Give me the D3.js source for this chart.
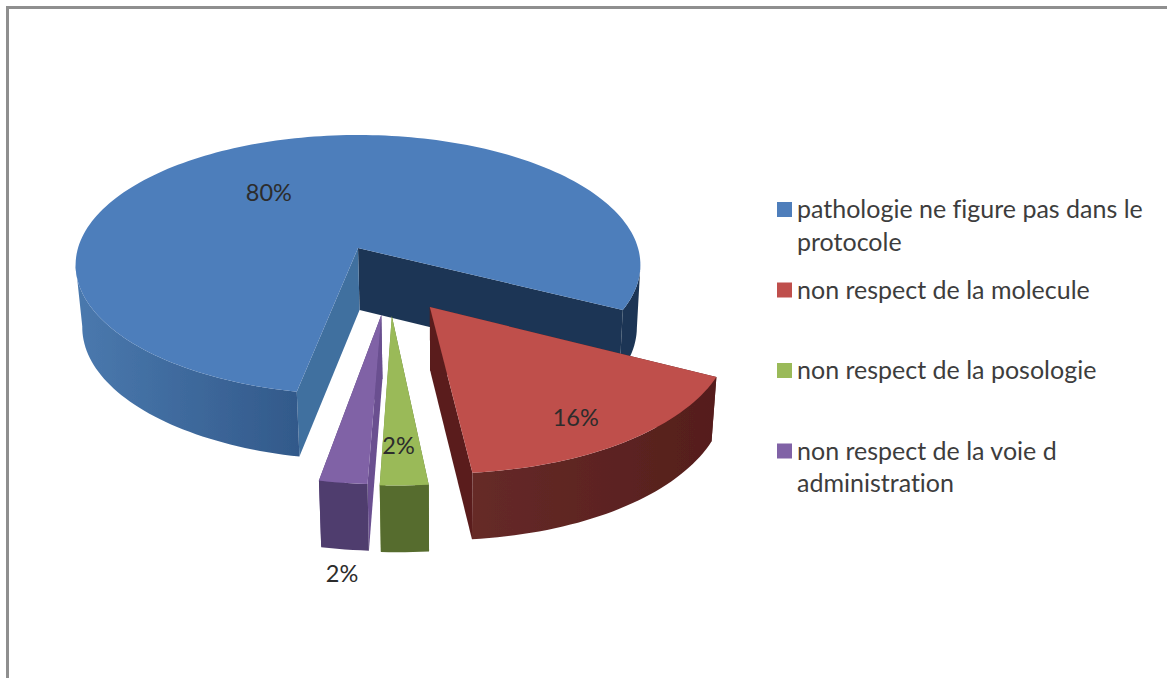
<!DOCTYPE html>
<html><head><meta charset="utf-8">
<script src="https://cdn.jsdelivr.net/npm/d3@7"></script>
<style>html,body{margin:0;padding:0;background:#fff;overflow:hidden}svg{display:block}text{font-family:Lato,"Open Sans",sans-serif;font-variant-ligatures:none}</style>
</head><body><svg id="c" width="1167" height="678"></svg>
<script>
const categories = ["pathologie ne figure pas dans le protocole","non respect de la molecule","non respect de la posologie","non respect de la voie d administration"];
const legendLines = [["pathologie ne figure pas dans le","protocole"],["non respect de la molecule"],["non respect de la posologie"],["non respect de la voie d","administration"]];
const values = [79.5,16,2.25,2.25];
const valueLabels = ["80%","16%","2%","2%"];
const topColors = ["#4e7ebb","#bf4f4c","#9aba59","#8062a6"];
const wallFrom = ["#4a79ae","#662a28","#566c2d","#4f3c6e"];
const wallTo = ["#32598a","#551e1c","#566c2d","#4f3c6e"];
const cutLeftColors = ["#41709f","#5a1f1e","#566c2d","#6a5090"];
const cutRightColors = ["#1e3654","#5a1f1e","#6f8a3a","#5b4580"];

const svg = d3.select("#c");
const W=1167,H=678;
svg.append("rect").attr("width",W).attr("height",H).attr("fill","#fff");
svg.append("path").attr("d",`M7.5,${H} V7.5 H${W}`).attr("fill","none").attr("stroke","#8f8f8f").attr("stroke-width",3);

const defs = svg.append("defs");
defs.append("filter").attr("id","soft").append("feGaussianBlur").attr("stdDeviation",0.45);

const cx=358, cy=248, Rx=280, Ry=127.7, persp=0.13, sx=0.982, sy=1.02, depth=62, vanishX=445;
const project=(u,v,z)=>{const w=1-persp*v, X=u/w, Y=v/w, px=cx+Rx*X;
  return z?[vanishX+(px-vanishX)*sx, cy+Ry*sy*Y+depth]:[px, cy+Ry*Y];};
const explode=[[0,0],[0.242,0.436],[0.113,0.498],[0.078,0.491]];
const labelSpot=[{r:0.57,nudge:-10.4},{r:0.813,nudge:2.8},{r:0.79,nudge:0.6},{r:1.43,nudge:-2.1}];
const rad=d=>d*Math.PI/180;
const start=rad(191);
const arcs=d3.pie().sort(null).startAngle(start).endAngle(start+2*Math.PI)(values);
const line=d3.line();
const chart=svg.append("g").attr("filter","url(#soft)");
const rim=(a,i,z)=>{const n=Math.max(4,Math.ceil((a.endAngle-a.startAngle)/rad(1.5)));
  return d3.range(n+1).map(k=>{const t=a.startAngle+(a.endAngle-a.startAngle)*k/n;
    return project(explode[i][0]+Math.sin(t),explode[i][1]-Math.cos(t),z);});};

// paint order: large slice at the back first
[0,3,2,1].forEach(i=>{
  const a=arcs[i], g=chart.append("g");
  const c0=project(explode[i][0],explode[i][1],0), c1=project(explode[i][0],explode[i][1],1);
  const top=rim(a,i,0), bot=rim(a,i,1);
  const cutA=[c0,top[0],bot[0],c1], cutB=[c0,top[top.length-1],bot[bot.length-1],c1];
  g.append("path").attr("d",line(cutB)+"Z").attr("fill",cutRightColors[i]);
  g.append("path").attr("d",line(cutA)+"Z").attr("fill",cutLeftColors[i]);
  const xs=d3.extent(top.concat(bot),d=>d[0]);
  const id="wall"+i;
  const gr=defs.append("linearGradient").attr("id",id).attr("gradientUnits","userSpaceOnUse")
    .attr("x1",xs[0]).attr("x2",i===0?300:xs[1]).attr("y1",0).attr("y2",0);
  gr.append("stop").attr("offset",0).attr("stop-color",wallFrom[i]);
  gr.append("stop").attr("offset",1).attr("stop-color",wallTo[i]);
  if(i===0){
    const sA=top.findIndex(d=>d[0]===d3.min(top,e=>e[0]));
    const front=top.slice(0,sA+1), frontB=bot.slice(0,sA+1);
    g.append("path").attr("d",line(front.concat(frontB.reverse()))+"Z").attr("fill",`url(#${id})`);
    const sB=top.findIndex(d=>d[0]===d3.max(top,e=>e[0]));
    const r=top.slice(sB), rB=bot.slice(sB);
    g.append("path").attr("d",line(r.concat(rB.reverse()))+"Z").attr("fill","#1e3654");
  } else {
    g.append("path").attr("d",line(top.concat(bot.slice().reverse()))+"Z").attr("fill",`url(#${id})`);
  }
  g.append("path").attr("d",line([c0].concat(top))+"Z").attr("fill",topColors[i]);
});

arcs.forEach((a,i)=>{
  const t=(a.startAngle+a.endAngle)/2+rad(labelSpot[i].nudge), r=labelSpot[i].r;
  const p=project(explode[i][0]+r*Math.sin(t),explode[i][1]-r*Math.cos(t),0);
  svg.append("text").attr("x",p[0]).attr("y",p[1]).attr("dy","0.35em").attr("text-anchor","middle")
    .attr("font-size",23.5).attr("fill","#2c2c2c").text(valueLabels[i]);
});

const legendRow=d3.scalePoint().domain(d3.range(categories.length)).range([209.5,451]);
categories.forEach((c,i)=>{
  const y=legendRow(i);
  svg.append("rect").attr("x",777).attr("y",y-7.5).attr("width",15).attr("height",15).attr("fill",topColors[i]);
  const tx=svg.append("text").attr("x",797).attr("y",y+8.5).attr("font-size",25).attr("fill","#3d3d3d");
  legendLines[i].forEach((l,k)=>tx.append("tspan").attr("x",797).attr("dy",k?32.5:0).text(l));
});
</script></body></html>
